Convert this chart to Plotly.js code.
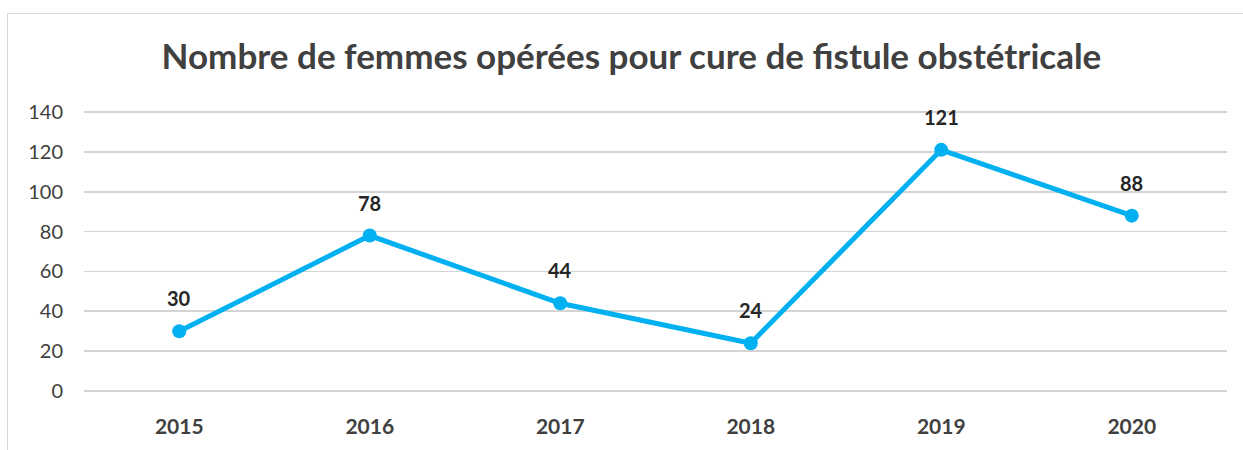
<!DOCTYPE html>
<html>
<head>
<meta charset="utf-8">
<script src="https://cdn.plot.ly/plotly-3.0.1.min.js"></script>
<style>
  html, body { margin: 0; padding: 0; background: #ffffff; overflow: hidden; }
  #frame { position: absolute; left: 7px; top: 13px; width: 1300px; height: 500px; border: 1px solid #d9d9d9; box-sizing: border-box; }
  #chart { position: absolute; left: 0; top: 0; width: 1243px; height: 450px; }
</style>
</head>
<body>
<div id="frame"></div>
<div id="chart"></div>
<script>
const years = ['2015', '2016', '2017', '2018', '2019', '2020'];
const women = [30, 78, 44, 24, 121, 88];
const yTicks = [0, 20, 40, 60, 80, 100, 120, 140];

const FONT = 'Lato, "Open Sans", sans-serif';

const trace = {
  x: years,
  y: women,
  type: 'scatter',
  mode: 'lines+markers',
  line: { color: '#00b0f0', width: 5 },
  marker: { color: '#00b0f0', size: 14 },
  hoverinfo: 'x+y',
  cliponaxis: false
};

const labels = years.map((yr, i) => ({
  xref: 'x', yref: 'y',
  x: i, y: women[i], text: '<b>' + women[i] + '</b>',
  showarrow: false, yshift: 33,
  xanchor: 'center', yanchor: 'middle',
  font: { family: FONT, size: 20, color: '#262626' }
}));

const layout = {
  width: 1243, height: 450,
  paper_bgcolor: 'rgba(0,0,0,0)', plot_bgcolor: 'rgba(0,0,0,0)',
  margin: { l: 84, r: 16, t: 108, b: 55 },
  title: {
    text: '<b>Nombre de femmes opérées pour cure de fistule obstétricale</b>',
    x: 0.508, xanchor: 'center', y: 0.873, yanchor: 'middle',
    font: { family: FONT, size: 35, color: '#404040' }
  },
  xaxis: {
    type: 'category', range: [-0.5, 5.5], showgrid: false, zeroline: false, showline: false,
    ticks: '', ticklabelstandoff: 17,
    tickfont: { family: FONT, size: 21, color: '#404040', weight: 'bold' }
  },
  yaxis: {
    range: [-2, 142], tickvals: yTicks, ticktext: yTicks.map(String),
    showgrid: true, gridcolor: '#d4d4d4', gridwidth: 1.8, zeroline: false, showline: false,
    ticks: '', ticklabelstandoff: 20,
    tickfont: { family: FONT, size: 20, color: '#404040' }
  },
  annotations: labels,
  showlegend: false
};

Plotly.newPlot('chart', [trace], layout, { displayModeBar: false, staticPlot: true });
</script>
</body>
</html>
